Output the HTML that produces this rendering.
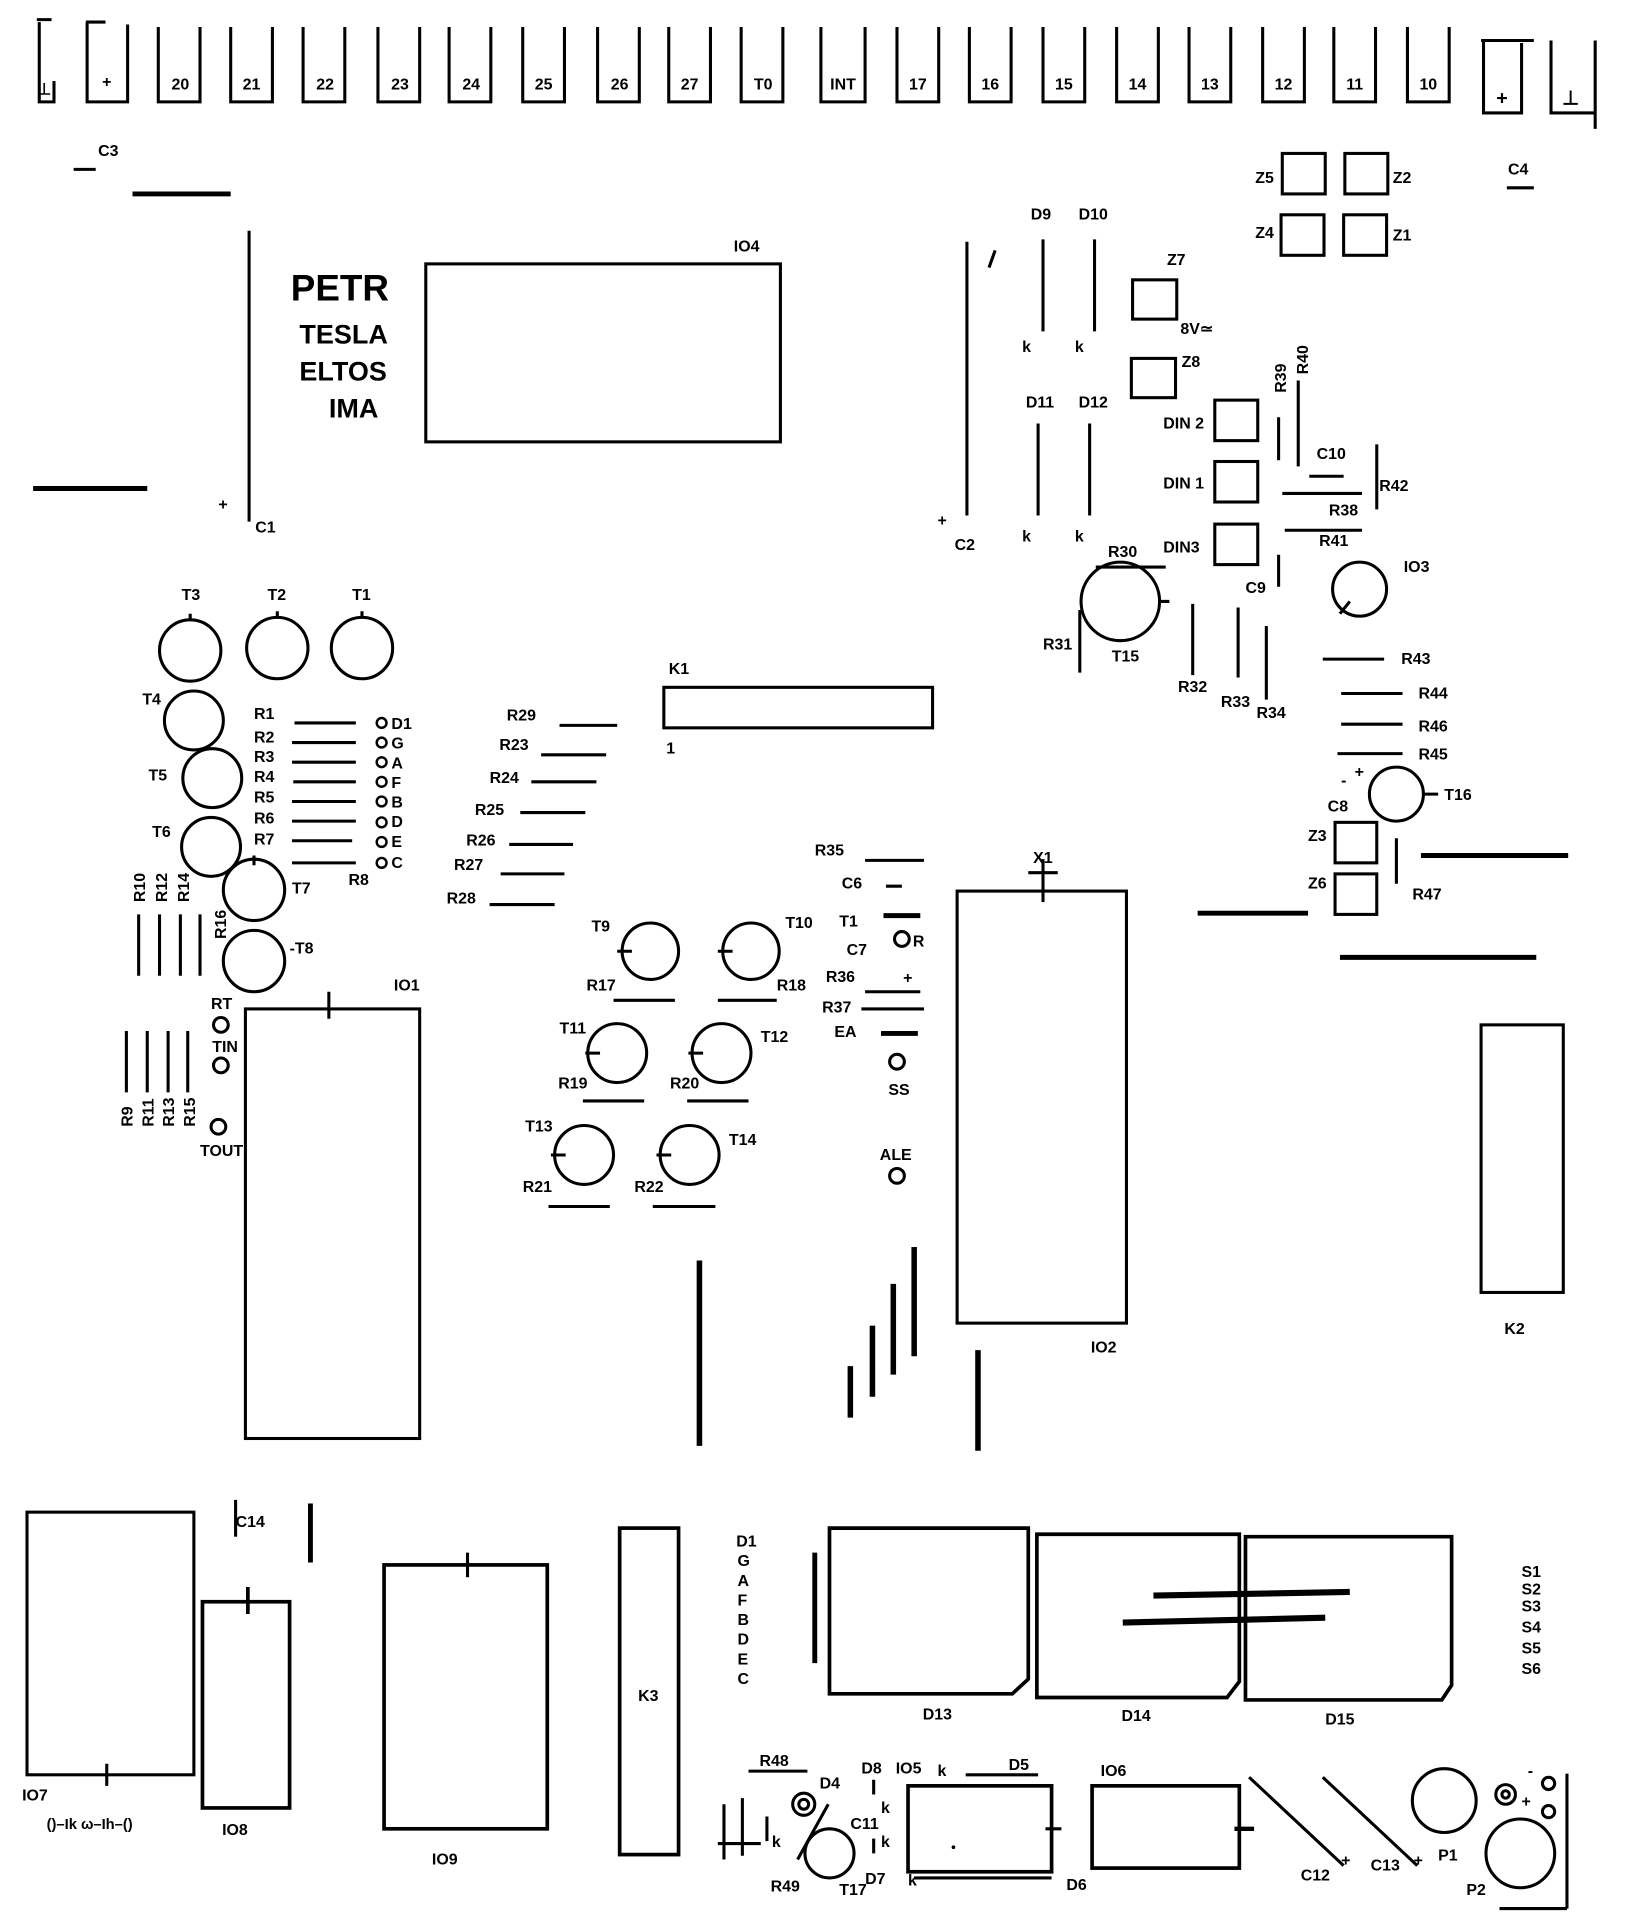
<!DOCTYPE html>
<html><head><meta charset="utf-8"><style>
html,body{margin:0;padding:0;background:#fff;}
svg{display:block;}
text{font-family:"Liberation Sans",sans-serif;font-weight:bold;fill:#000;}
</style></head><body>
<svg width="1632" height="1927" viewBox="0 0 1330 1570" preserveAspectRatio="none" xmlns="http://www.w3.org/2000/svg">
<g fill="none" stroke="#000" stroke-width="2.5">
<!-- top tabs -->
<path d="M30 16 H42 M32 18 V83 H44 V66"/>
<path d="M70 18 H86 M71 18 V83 H104 V20"/>
<path d="M129 22 V83 H163 V22"/><path d="M188 22 V83 H222 V22"/><path d="M247 22 V83 H281 V22"/>
<path d="M308 22 V83 H342 V22"/><path d="M366 22 V83 H400 V22"/><path d="M426 22 V83 H460 V22"/>
<path d="M487 22 V83 H521 V22"/><path d="M545 22 V83 H579 V22"/><path d="M604 22 V83 H638 V22"/>
<path d="M669 22 V83 H705 V22"/><path d="M731 22 V83 H765 V22"/><path d="M790 22 V83 H824 V22"/>
<path d="M850 22 V83 H884 V22"/><path d="M910 22 V83 H944 V22"/><path d="M969 22 V83 H1003 V22"/>
<path d="M1029 22 V83 H1063 V22"/><path d="M1087 22 V83 H1121 V22"/><path d="M1147 22 V83 H1181 V22"/>
<path d="M1207 33 H1250 M1209 33 V92 H1240 V35"/>
<path d="M1264 33 V92 H1300 V35 M1300 33 V105"/>
<!-- C3, lines -->
<path d="M60 138 H78" /><path d="M108 158 H188" stroke-width="4"/>
<path d="M203 188 V425"/><path d="M27 398 H120" stroke-width="4"/>
<rect x="347" y="215" width="289" height="145"/>
<path d="M788 197 V420"/><path d="M806 218 L811 204"/>
<path d="M850 195 V270 M892 195 V270 M846 345 V420 M888 345 V420"/>
<rect x="923" y="228" width="36" height="32"/><rect x="922" y="292" width="36" height="32"/>
<rect x="1045" y="125" width="35" height="33"/><rect x="1096" y="125" width="35" height="33"/>
<rect x="1044" y="175" width="35" height="33"/><rect x="1095" y="175" width="35" height="33"/>
<path d="M1228 153 H1250"/>
<rect x="990" y="326" width="35" height="33"/><rect x="990" y="376" width="35" height="33"/><rect x="990" y="427" width="35" height="33"/>
<path d="M1042 340 V375 M1058 310 V380 M1067 388 H1095 M1122 362 V415 M1045 402 H1110 M1047 432 H1110 M1042 452 V478"/>
<path d="M893 462 H950 M945 490 H953 M880 497 V548 M972 492 V550 M1009 495 V552 M1032 510 V570"/>
<circle cx="913" cy="490" r="32"/>
<circle cx="1108" cy="480" r="22"/><path d="M1092 500 L1100 490"/>
<path d="M1078 537 H1128 M1093 565 H1143 M1093 590 H1143 M1090 614 H1143"/>
<circle cx="1138" cy="647" r="22"/><path d="M1160 647 H1172 M1138 683 V720"/>
<rect x="1088" y="670" width="34" height="33"/><rect x="1088" y="712" width="34" height="33"/>
<path d="M1158 697 H1278 M976 744 H1066 M1092 780 H1252" stroke-width="4"/>
<rect x="1207" y="835" width="67" height="218"/>
<!-- left transistors -->
<circle cx="155" cy="530" r="25"/><circle cx="226" cy="528" r="25"/><circle cx="295" cy="528" r="25"/>
<circle cx="158" cy="587" r="24"/><circle cx="173" cy="634" r="24"/><circle cx="172" cy="690" r="24"/>
<circle cx="207" cy="725" r="25"/><circle cx="207" cy="783" r="25"/>
<path d="M155 500 V506 M226 498 V504 M295 498 V504 M207 697 V705"/>
<path d="M240 589 H290 M238 605 H290 M238 621 H290 M239 637 H290 M238 653 H290 M238 669 H290 M238 685 H287 M238 703 H290"/>
<g stroke-width="2"><circle cx="311" cy="589" r="4"/><circle cx="311" cy="605" r="4"/><circle cx="311" cy="621" r="4"/><circle cx="311" cy="637" r="4"/><circle cx="311" cy="653" r="4"/><circle cx="311" cy="670" r="4"/><circle cx="311" cy="686" r="4"/><circle cx="311" cy="703" r="4"/></g>
<path d="M113 745 V795 M130 745 V795 M147 745 V795 M163 745 V795"/>
<path d="M103 840 V890 M120 840 V890 M137 840 V890 M153 840 V890"/>
<circle cx="180" cy="835" r="6"/><circle cx="180" cy="868" r="6"/><circle cx="178" cy="918" r="6"/>
<rect x="200" y="822" width="142" height="350"/><path d="M268 808 V830"/>
<!-- R lines middle -->
<path d="M456 591 H503 M441 615 H494 M433 637 H486 M424 662 H477 M415 688 H467 M408 712 H460 M399 737 H452"/>
<rect x="541" y="560" width="219" height="33"/>
<circle cx="530" cy="775" r="23"/><circle cx="612" cy="775" r="23"/>
<circle cx="503" cy="858" r="24"/><circle cx="588" cy="858" r="24"/>
<circle cx="476" cy="941" r="24"/><circle cx="562" cy="941" r="24"/>
<path d="M503 775 H515 M585 775 H597 M477 858 H489 M561 858 H573 M449 941 H461 M535 941 H547"/>
<path d="M500 815 H550 M585 815 H633 M475 897 H525 M560 897 H610 M447 983 H497 M532 983 H583"/>
<path d="M705 701 H753 M722 722 H735 M705 808 H750 M702 822 H753"/>
<path d="M720 746 H750 M718 842 H748" stroke-width="4"/>
<circle cx="735" cy="765" r="6"/><circle cx="731" cy="865" r="6"/><circle cx="731" cy="958" r="6"/>
<path d="M838 711 H862 M850 700 V735"/>
<rect x="780" y="726" width="138" height="352"/>
<path d="M570 1027 V1178 M693 1113 V1155 M711 1080 V1138 M728 1046 V1120 M745 1016 V1105 M797 1100 V1182" stroke-width="4.5"/>
<!-- bottom -->
<rect x="22" y="1232" width="136" height="214"/><path d="M87 1437 V1455"/>
<path d="M192 1222 V1252"/><path d="M253 1225 V1273" stroke-width="4"/>
<rect x="165" y="1305" width="71" height="168" stroke-width="3"/><path d="M202 1293 V1315" stroke-width="3"/>
<rect x="313" y="1275" width="133" height="215" stroke-width="3"/><path d="M381 1265 V1285"/>
<rect x="505" y="1245" width="48" height="266" stroke-width="3"/>
<path d="M664 1265 V1355" stroke-width="4"/>
<path d="M676 1245 H838 V1368 L825 1380 H676 Z" stroke-width="3"/>
<path d="M845 1250 H1010 V1370 L1000 1383 H845 Z" stroke-width="3"/>
<path d="M1015 1252 H1183 V1373 L1175 1385 H1015 Z" stroke-width="3"/>
<path d="M940 1300 L1100 1297 M915 1322 L1080 1318" stroke-width="5"/>
<path d="M610 1443 H658 M585 1502 H620 M590 1470 V1515 M605 1465 V1512 M625 1480 V1500"/>
<circle cx="655" cy="1470" r="9"/><circle cx="655" cy="1470" r="4"/>
<circle cx="676" cy="1510" r="20"/><path d="M650 1515 L675 1470"/>
<path d="M712 1450 V1462 M712 1498 V1510"/>
<rect x="740" y="1455" width="117" height="70" stroke-width="3"/><path d="M852 1490 H865"/>
<path d="M787 1446 H846 M745 1530 H857"/>
<rect x="890" y="1455" width="120" height="67" stroke-width="3"/><path d="M1006 1490 H1022" stroke-width="3.5"/>
<path d="M1018 1448 L1095 1520 M1078 1448 L1155 1520"/>
<circle cx="1177" cy="1467" r="26"/><circle cx="1239" cy="1510" r="28"/>
<circle cx="1227" cy="1462" r="8"/><circle cx="1227" cy="1462" r="3"/>
<circle cx="1262" cy="1453" r="5"/><circle cx="1262" cy="1476" r="5"/>
<path d="M1277 1445 V1555 M1222 1555 H1277"/>
</g>
<g fill="#000"><circle cx="777" cy="1505" r="1.5"/></g>
<!-- top tab labels -->
<g font-size="13" text-anchor="middle">
<text x="36" y="77">⊥</text><text x="87" y="71">+</text><text x="147" y="73">20</text><text x="205" y="73">21</text>
<text x="265" y="73">22</text><text x="326" y="73">23</text><text x="384" y="73">24</text><text x="443" y="73">25</text>
<text x="505" y="73">26</text><text x="562" y="73">27</text><text x="622" y="73">T0</text><text x="687" y="73">INT</text>
<text x="748" y="73">17</text><text x="807" y="73">16</text><text x="867" y="73">15</text><text x="927" y="73">14</text>
<text x="986" y="73">13</text><text x="1046" y="73">12</text><text x="1104" y="73">11</text><text x="1164" y="73">10</text>
<text x="1224" y="85" font-size="16">+</text><text x="1280" y="85" font-size="16">⊥</text>
</g>
<g font-size="13">
<text x="80" y="127">C3</text>
<text x="237" y="245" font-size="30" font-weight="normal">PETR</text>
<text x="244" y="280" font-size="22" font-weight="normal">TESLA</text>
<text x="244" y="310" font-size="22" font-weight="normal">ELTOS</text>
<text x="268" y="340" font-size="22" font-weight="normal">IMA</text>
<text x="178" y="415">+</text><text x="208" y="434">C1</text>
<text x="598" y="205">IO4</text>
<text x="764" y="428">+</text><text x="778" y="448">C2</text>
<text x="840" y="179">D9</text><text x="879" y="179">D10</text><text x="833" y="287">k</text><text x="876" y="287">k</text>
<text x="836" y="332">D11</text><text x="879" y="332">D12</text><text x="833" y="441">k</text><text x="876" y="441">k</text>
<text x="951" y="216">Z7</text><text x="962" y="272">8V≃</text><text x="963" y="299">Z8</text>
<text x="1023" y="149">Z5</text><text x="1135" y="149">Z2</text><text x="1023" y="194">Z4</text><text x="1135" y="196">Z1</text>
<text x="1229" y="142">C4</text>
<text x="948" y="349">DIN 2</text><text x="948" y="398">DIN 1</text><text x="948" y="450">DIN3</text>
<text x="1048" y="320" transform="rotate(-90 1048 320)">R39</text><text x="1066" y="305" transform="rotate(-90 1066 305)">R40</text>
<text x="1073" y="374">C10</text><text x="1124" y="400">R42</text><text x="1083" y="420">R38</text><text x="1075" y="445">R41</text>
<text x="1015" y="483">C9</text><text x="903" y="454">R30</text><text x="850" y="529">R31</text><text x="906" y="539">T15</text>
<text x="960" y="564">R32</text><text x="995" y="576">R33</text><text x="1024" y="585">R34</text>
<text x="1144" y="466">IO3</text>
<text x="1142" y="541">R43</text><text x="1156" y="569">R44</text><text x="1156" y="596">R46</text><text x="1156" y="619">R45</text>
<text x="1104" y="633">+</text><text x="1093" y="640">-</text><text x="1177" y="652">T16</text><text x="1082" y="661">C8</text>
<text x="1066" y="685">Z3</text><text x="1066" y="724">Z6</text><text x="1151" y="733">R47</text>
<text x="1226" y="1087">K2</text>
<text x="148" y="489">T3</text><text x="218" y="489">T2</text><text x="287" y="489">T1</text>
<text x="116" y="574">T4</text><text x="121" y="636">T5</text><text x="124" y="682">T6</text>
<text x="238" y="728">T7</text><text x="236" y="777">-T8</text>
<text x="207" y="586">R1</text><text x="207" y="605">R2</text><text x="207" y="621">R3</text><text x="207" y="637">R4</text>
<text x="207" y="654">R5</text><text x="207" y="671">R6</text><text x="207" y="688">R7</text><text x="284" y="721">R8</text>
<text x="319" y="594">D1</text><text x="319" y="610">G</text><text x="319" y="626">A</text><text x="319" y="642">F</text>
<text x="319" y="658">B</text><text x="319" y="674">D</text><text x="319" y="690">E</text><text x="319" y="707">C</text>
<text x="118" y="735" transform="rotate(-90 118 735)">R10</text><text x="136" y="735" transform="rotate(-90 136 735)">R12</text>
<text x="154" y="735" transform="rotate(-90 154 735)">R14</text><text x="184" y="765" transform="rotate(-90 184 765)">R16</text>
<text x="108" y="918" transform="rotate(-90 108 918)">R9</text><text x="125" y="918" transform="rotate(-90 125 918)">R11</text>
<text x="142" y="918" transform="rotate(-90 142 918)">R13</text><text x="159" y="918" transform="rotate(-90 159 918)">R15</text>
<text x="172" y="822">RT</text><text x="173" y="857">TIN</text><text x="163" y="942">TOUT</text>
<text x="321" y="807">IO1</text>
<text x="413" y="587">R29</text><text x="407" y="611">R23</text><text x="399" y="638">R24</text><text x="387" y="664">R25</text>
<text x="380" y="689">R26</text><text x="370" y="709">R27</text><text x="364" y="736">R28</text>
<text x="545" y="549">K1</text><text x="543" y="614">1</text>
<text x="482" y="759">T9</text><text x="640" y="756">T10</text><text x="478" y="807">R17</text><text x="633" y="807">R18</text>
<text x="456" y="842">T11</text><text x="620" y="849">T12</text><text x="455" y="887">R19</text><text x="546" y="887">R20</text>
<text x="428" y="922">T13</text><text x="594" y="933">T14</text><text x="426" y="971">R21</text><text x="517" y="971">R22</text>
<text x="664" y="697">R35</text><text x="686" y="724">C6</text><text x="684" y="755">T1</text><text x="690" y="778">C7</text>
<text x="744" y="771">R</text><text x="673" y="800">R36</text><text x="736" y="801">+</text><text x="670" y="825">R37</text>
<text x="680" y="845">EA</text><text x="724" y="892">SS</text><text x="717" y="945">ALE</text>
<text x="842" y="703">X1</text><text x="889" y="1102">IO2</text>
<text x="192" y="1244">C14</text><text x="18" y="1467">IO7</text><text x="38" y="1490" font-size="12">()–Ik ω–Ih–()</text>
<text x="181" y="1495">IO8</text><text x="352" y="1519">IO9</text><text x="520" y="1386">K3</text>
<text x="600" y="1260">D1</text><text x="601" y="1276">G</text><text x="601" y="1292">A</text><text x="601" y="1308">F</text>
<text x="601" y="1324">B</text><text x="601" y="1340">D</text><text x="601" y="1356">E</text><text x="601" y="1372">C</text>
<text x="752" y="1401">D13</text><text x="914" y="1402">D14</text><text x="1080" y="1405">D15</text>
<text x="1240" y="1285">S1</text><text x="1240" y="1299">S2</text><text x="1240" y="1313">S3</text>
<text x="1240" y="1330">S4</text><text x="1240" y="1347">S5</text><text x="1240" y="1364">S6</text>
<text x="619" y="1439">R48</text><text x="668" y="1457">D4</text><text x="628" y="1541">R49</text><text x="684" y="1544">T17</text>
<text x="693" y="1490">C11</text><text x="702" y="1445">D8</text><text x="730" y="1445">IO5</text><text x="764" y="1447">k</text>
<text x="718" y="1477">k</text><text x="718" y="1505">k</text><text x="740" y="1536">k</text><text x="629" y="1505">k</text>
<text x="705" y="1535">D7</text><text x="822" y="1442">D5</text><text x="869" y="1540">D6</text><text x="897" y="1447">IO6</text>
<text x="1060" y="1532">C12</text><text x="1093" y="1520">+</text><text x="1117" y="1524">C13</text><text x="1152" y="1520">+</text>
<text x="1172" y="1516">P1</text><text x="1195" y="1544">P2</text><text x="1240" y="1472">+</text><text x="1245" y="1447">-</text>
</g>
</svg>
</body></html>
